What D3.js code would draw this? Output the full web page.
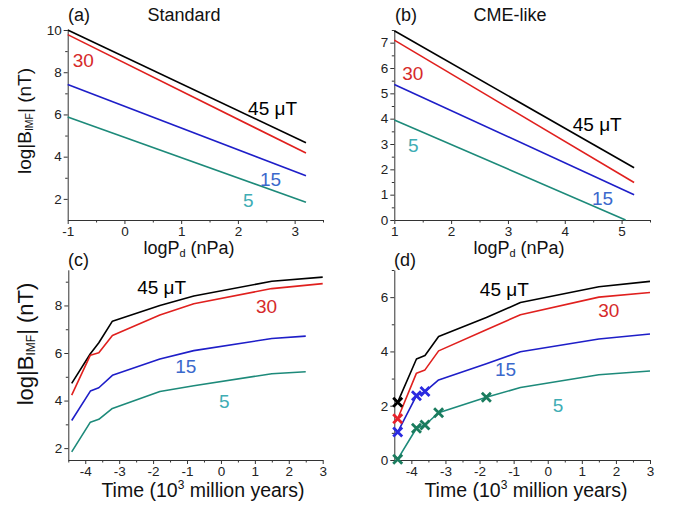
<!DOCTYPE html>
<html>
<head>
<meta charset="utf-8">
<script src="https://cdn.jsdelivr.net/npm/d3@7"></script>
<style>
  body { margin: 0; background: #ffffff; }
  svg { font-family: "Liberation Sans", Arial, sans-serif; }
</style>
</head>
<body>
<svg id="chart" width="675" height="508"></svg>
<script>
// ---- data ----
const fieldNames = ["45 μT", "30", "15", "5"];

// (a) Standard: log|B_IMF| against logPd
const pdStandard = [-1, 3.2];
const bStandard45 = [10.0, 4.66];
const bStandard30 = [9.78, 4.17];
const bStandard15 = [7.42, 3.1];
const bStandard5 = [5.88, 1.84];

// (b) CME-like
const pdCme = [1, 5.22];
const pdCme5 = [1, 5.07];
const bCme45 = [7.47, 2.06];
const bCme30 = [7.1, 1.48];
const bCme15 = [5.35, 1.0];
const bCme5 = [3.95, 0.0];

// (c) Standard, against time (10^3 Myr)
const timeStd = [-4.4, -3.85, -3.6, -3.2, -1.8, -0.8, 1.5, 3];
const timeStdShort = [-4.4, -3.85, -3.6, -3.2, -1.8, -0.8, 1.5, 2.5];
const bTimeStd45 = [4.72, 5.97, 6.43, 7.34, 8.0, 8.4, 9.02, 9.19];
const bTimeStd30 = [4.23, 5.91, 6.01, 6.74, 7.6, 8.07, 8.71, 8.92];
const bTimeStd15 = [3.16, 4.40, 4.54, 5.06, 5.75, 6.1, 6.61, 6.71];
const bTimeStd5 = [1.84, 3.09, 3.21, 3.67, 4.38, 4.62, 5.13, 5.21];

// (d) CME-like, against time
const timeCme = [-4.4, -3.85, -3.6, -3.2, -1.8, -0.8, 1.5, 3];
const bTimeCme45 = [2.13, 3.72, 3.85, 4.55, 5.25, 5.8, 6.38, 6.58];
const bTimeCme30 = [1.52, 3.2, 3.32, 4.02, 4.8, 5.35, 6.0, 6.17];
const bTimeCme15 = [1.03, 2.37, 2.52, 2.95, 3.55, 3.99, 4.46, 4.64];
const bTimeCme5 = [0.03, 1.17, 1.29, 1.74, 2.31, 2.67, 3.14, 3.28];
// points of (d) drawn with a cross
const marks45 = [0];
const marks30 = [0];
const marks15 = [0, 1, 2];
const marks5 = [0, 1, 2, 3, 4];

// ---- styles ----
const lineColors = ["#000000", "#e0201e", "#1e1ec8", "#1d8a7a"];
const labelColors = ["#000000", "#d62a2a", "#3a68cc", "#3fadb4"];
const markColors = ["#000000", "#e8202a", "#2a2ae0", "#1a7c5e"];

const svg = d3.select("#chart");

const panels = [
  {
    letter: "(a)", title: "Standard", letterX: 68, titleX: 184, titleY: 21,
    xDomain: [-1, 3.5], xRange: [67.7, 323], yDomain: [1, 10], yRange: [220, 30],
    xMajor: [-1, 0, 1, 2, 3], xMinor: [-0.5, 0.5, 1.5, 2.5, 3.5],
    yMajor: [2, 4, 6, 8, 10], yMinor: [3, 5, 7, 9],
    series: [
      [pdStandard, bStandard45], [pdStandard, bStandard30],
      [pdStandard, bStandard15], [pdStandard, bStandard5]
    ],
    labels: [[2.18, 5.98], [-0.91, 8.25], [2.39, 2.61], [2.09, 1.62]],
    xTitle: "pd", xTitleX: 189, xTitleY: 254,
    yTitle: true, yTitleX: 31, yTitleY: 121, yTitleSize: 19
  },
  {
    letter: "(b)", title: "CME-like", letterX: 395, titleX: 510, titleY: 21,
    xDomain: [1, 5.5], xRange: [394.3, 650], yDomain: [0, 7.5], yRange: [220, 30],
    xMajor: [1, 2, 3, 4, 5], xMinor: [1.5, 2.5, 3.5, 4.5, 5.5],
    yMajor: [0, 1, 2, 3, 4, 5, 6, 7], yMinor: [0.5, 1.5, 2.5, 3.5, 4.5, 5.5, 6.5, 7.5],
    series: [
      [pdCme, bCme45], [pdCme, bCme30], [pdCme, bCme15], [pdCme5, bCme5]
    ],
    labels: [[4.14, 3.51], [1.14, 5.53], [4.48, 0.59], [1.24, 2.68]],
    xTitle: "pd", xTitleX: 519, xTitleY: 254,
    yTitle: false
  },
  {
    letter: "(c)", title: "", letterX: 68, titleY: 266,
    xDomain: [-4.5, 3], xRange: [68.3, 322.7], yDomain: [1.5, 9.5], yRange: [460, 269.8],
    xMajor: [-4, -3, -2, -1, 0, 1, 2, 3], xMinor: [-4.5, -3.5, -2.5, -1.5, -0.5, 0.5, 1.5, 2.5],
    yMajor: [2, 4, 6, 8], yMinor: [3, 5, 7, 9],
    series: [
      [timeStd, bTimeStd45], [timeStd, bTimeStd30],
      [timeStdShort, bTimeStd15], [timeStdShort, bTimeStd5]
    ],
    labels: [[-2.47, 8.5], [1.03, 7.7], [-1.35, 5.14], [-0.06, 3.67]],
    xTitle: "time", xTitleX: 203, xTitleY: 497,
    yTitle: true, yTitleX: 33, yTitleY: 344, yTitleSize: 22
  },
  {
    letter: "(d)", title: "", letterX: 394, titleY: 266,
    xDomain: [-4.5, 3], xRange: [394.3, 650], yDomain: [0, 7], yRange: [460, 270],
    xMajor: [-4, -3, -2, -1, 0, 1, 2, 3], xMinor: [-4.5, -3.5, -2.5, -1.5, -0.5, 0.5, 1.5, 2.5],
    yMajor: [0, 2, 4, 6], yMinor: [1, 3, 5, 7],
    series: [
      [timeCme, bTimeCme45], [timeCme, bTimeCme30],
      [timeCme, bTimeCme15], [timeCme, bTimeCme5]
    ],
    marks: [marks45, marks30, marks15, marks5],
    labels: [[-1.99, 6.04], [1.48, 5.27], [-1.55, 3.1], [0.15, 1.77]],
    xTitle: "time", xTitleX: 526, xTitleY: 497,
    yTitle: false
  }
];

let drawPanel = function(p) {
  const x = d3.scaleLinear().domain(p.xDomain).range(p.xRange);
  const y = d3.scaleLinear().domain(p.yDomain).range(p.yRange);
  const g = svg.append("g");

  // minor ticks
  g.append("g")
    .attr("transform", `translate(0,${p.yRange[0]})`)
    .call(d3.axisBottom(x).tickValues(p.xMinor).tickSize(2.5).tickFormat(""))
    .call((a) => a.select(".domain").remove());
  g.append("g")
    .attr("transform", `translate(${p.xRange[0]},0)`)
    .call(d3.axisLeft(y).tickValues(p.yMinor).tickSize(2.5).tickFormat(""))
    .call((a) => a.select(".domain").remove());

  // major ticks + axis lines
  const xAxis = g.append("g")
    .attr("transform", `translate(0,${p.yRange[0]})`)
    .call(d3.axisBottom(x).tickValues(p.xMajor).tickSize(4).tickSizeOuter(0).tickPadding(2));
  const yAxis = g.append("g")
    .attr("transform", `translate(${p.xRange[0]},0)`)
    .call(d3.axisLeft(y).tickValues(p.yMajor).tickSize(4).tickSizeOuter(0).tickPadding(2));

  g.selectAll(".tick line, .domain").attr("stroke", "#333").attr("stroke-width", 1);
  [xAxis, yAxis].forEach((a) => {
    a.selectAll("text")
      .style("font-family", "Liberation Sans, Arial, sans-serif")
      .style("font-size", "13.5px")
      .attr("fill", "#222")
      .text((d) => d < 0 ? "-" + Math.abs(d) : d);
  });

  // curves
  const line = d3.line().x((d) => x(d[0])).y((d) => y(d[1]));
  p.series.forEach(function(s, i) {
    const pts = s[0].map((t, k) => [t, s[1][k]]);
    g.append("path")
      .datum(pts)
      .attr("d", line)
      .attr("fill", "none")
      .attr("stroke", lineColors[i])
      .attr("stroke-width", 1.6)
      .attr("stroke-linejoin", "round");
  });

  // crosses
  if (p.marks) {
    p.series.forEach(function(s, i) {
      const pts = p.marks[i].map((k) => [s[0][k], s[1][k]]);
      g.selectAll(null)
        .data(pts)
        .join("path")
        .attr("d", "M-4.5,-4.5L4.5,4.5M-4.5,4.5L4.5,-4.5")
        .attr("transform", (d) => `translate(${x(d[0])},${y(d[1])})`)
        .attr("stroke", markColors[i])
        .attr("stroke-width", 2.8)
        .attr("fill", "none");
    });
  }

  // curve labels
  p.labels.forEach(function(l, i) {
    g.append("text")
      .attr("x", x(l[0]))
      .attr("y", y(l[1]))
      .attr("fill", labelColors[i])
      .style("font-size", "19px")
      .text(fieldNames[i]);
  });

  // panel letter and title
  g.append("text")
    .attr("x", p.letterX)
    .attr("y", p.titleY)
    .style("font-size", "18px")
    .attr("fill", "#111")
    .text(p.letter);
  if (p.title) {
    g.append("text")
      .attr("x", p.titleX)
      .attr("y", p.titleY)
      .attr("text-anchor", "middle")
      .style("font-size", "18px")
      .attr("fill", "#111")
      .text(p.title);
  }

  // x title
  const xt = g.append("text")
    .attr("x", p.xTitleX)
    .attr("y", p.xTitleY)
    .attr("text-anchor", "middle")
    .attr("fill", "#111");
  if (p.xTitle === "pd") {
    xt.style("font-size", "18px");
    xt.append("tspan").text("logP");
    xt.append("tspan").attr("dy", 3).style("font-size", "11px").text("d");
    xt.append("tspan").attr("dy", -3).text(" (nPa)");
  } else {
    xt.style("font-size", "19.5px");
    xt.append("tspan").text("Time (10");
    xt.append("tspan").attr("dy", -8).style("font-size", "12px").text("3");
    xt.append("tspan").attr("dy", 8).text(" million years)");
  }

  // y title
  if (p.yTitle) {
    const yt = g.append("text")
      .attr("transform", `translate(${p.yTitleX},${p.yTitleY}) rotate(-90)`)
      .attr("text-anchor", "middle")
      .attr("fill", "#111")
      .style("font-size", p.yTitleSize + "px");
    yt.append("tspan").text("log|B");
    yt.append("tspan").attr("dy", 2).style("font-size", (p.yTitleSize * 0.55) + "px").text("IMF");
    yt.append("tspan").attr("dy", -2).text("| (nT)");
  }
};

panels.forEach(drawPanel);
</script>
</body>
</html>
